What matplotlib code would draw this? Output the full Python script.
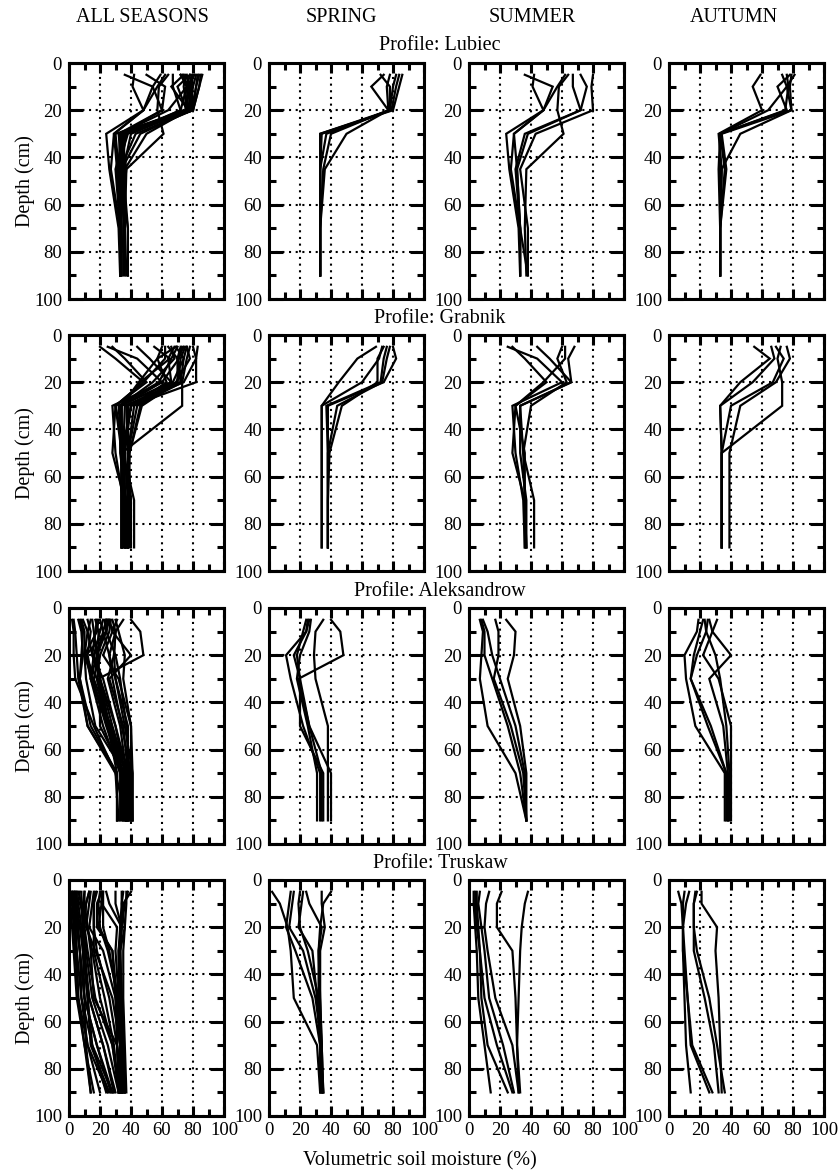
import matplotlib
matplotlib.use("Agg")
import matplotlib.pyplot as plt
from matplotlib.ticker import MultipleLocator, FixedLocator

plt.rcParams['font.family'] = ['Liberation Serif', 'DejaVu Serif']

SEASONS = ["ALL SEASONS", "SPRING", "SUMMER", "AUTUMN"]
PROFILES = ["Lubiec", "Grabnik", "Aleksandrow", "Truskaw"]
X_TICKS = [0, 20, 40, 60, 80, 100]
Y_TICKS = [0, 20, 40, 60, 80, 100]

# ---------------- Lubiec ----------------
LUBIEC_DEPTH = [5, 10, 20, 30, 45, 70, 90]
LUBIEC_SPRING = [
    [86, 84, 80, 33, 33, 33, 33],
    [84, 82, 79, 34, 33, 33, 33],
    [82, 80, 78, 37, 33, 33, 33],
    [78, 76, 77, 40, 35, 33, 33],
    [74, 66, 77, 50, 36, 33, 33],
    [72, 78, 78, 33, 33, 33, 33],
]
LUBIEC_SUMMER = [
    [36, 54, 48, 24, 26, 32, 33],
    [42, 41, 48, 29, 27, 33, 33],
    [62, 57, 48, 29, 31, 33, 33],
    [67, 67, 72, 36, 30, 33, 38],
    [80, 79, 80, 43, 33, 38, 38],
    [64, 58, 57, 61, 37, 36, 37],
    [72, 76, 72, 38, 31, 33, 33],
]
LUBIEC_AUTUMN = [
    [59, 54, 60, 32, 34, 33, 33],
    [73, 76, 64, 33, 36, 33, 33],
    [76, 77, 75, 33, 32, 33, 33],
    [79, 78, 79, 34, 37, 33, 33],
    [81, 76, 79, 46, 34, 33, 33],
    [78, 70, 76, 33, 33, 33, 33],
]
LUBIEC_WINTER = [
    [83, 82, 80, 35, 35, 35, 35],
    [85, 84, 80, 36, 35, 38, 38],
    [75, 74, 76, 30, 32, 34, 34],
    [50, 62, 60, 34, 36, 36, 36],
]

# ---------------- Grabnik ----------------
GRABNIK_DEPTH = [5, 10, 20, 30, 50, 70, 90]
GRABNIK_SPRING = [
    [69, 57, 45, 34, 34, 34, 34],
    [73, 71, 60, 34, 34, 34, 34],
    [76, 74, 72, 37, 38, 38, 38],
    [80, 82, 74, 38, 38, 38, 38],
    [74, 70, 70, 47, 39, 38, 38],
    [78, 76, 73, 44, 38, 38, 38],
]
GRABNIK_SUMMER = [
    [25, 44, 60, 28, 30, 35, 36],
    [28, 36, 50, 30, 28, 36, 37],
    [44, 52, 66, 33, 33, 37, 37],
    [60, 57, 63, 40, 35, 42, 42],
    [68, 64, 66, 33, 35, 36, 37],
    [62, 62, 48, 30, 36, 36, 36],
]
GRABNIK_AUTUMN = [
    [55, 65, 46, 33, 34, 34, 34],
    [66, 68, 54, 33, 34, 34, 34],
    [69, 74, 67, 40, 34, 34, 34],
    [76, 78, 69, 46, 39, 39, 39],
    [72, 70, 73, 73, 34, 34, 34],
]
GRABNIK_WINTER = [
    [20, 30, 48, 30, 34, 36, 36],
    [83, 82, 82, 40, 36, 38, 38],
    [75, 72, 70, 36, 35, 36, 36],
    [70, 66, 58, 32, 34, 35, 35],
    [64, 70, 72, 42, 38, 40, 40],
]

# ---------------- Aleksandrow ----------------
ALEKS_DEPTH = [5, 10, 20, 30, 50, 70, 90]
ALEKS_SPRING = [
    [40, 46, 48, 19, 26, 40, 40],
    [26, 24, 11, 14, 22, 33, 33],
    [24, 22, 18, 20, 20, 35, 35],
    [27, 26, 20, 18, 25, 31, 31],
    [35, 30, 29, 30, 38, 38, 38],
    [25, 24, 16, 20, 26, 34, 34],
]
ALEKS_SUMMER = [
    [7, 9, 8, 7, 12, 30, 37],
    [8, 10, 10, 15, 25, 33, 37],
    [17, 19, 19, 16, 27, 35, 37],
    [24, 30, 29, 25, 33, 37, 37],
    [9, 12, 15, 20, 30, 36, 37],
]
ALEKS_AUTUMN = [
    [19, 18, 10, 11, 17, 36, 36],
    [23, 24, 18, 14, 25, 37, 38],
    [26, 28, 40, 26, 35, 38, 38],
    [31, 28, 22, 32, 40, 40, 40],
    [22, 20, 16, 14, 27, 37, 37],
    [25, 24, 30, 33, 37, 39, 39],
]
ALEKS_WINTER = [
    [3, 4, 5, 6, 12, 31, 31],
    [2, 3, 3, 4, 16, 30, 32],
    [6, 8, 9, 7, 14, 31, 31],
    [12, 14, 12, 15, 24, 34, 36],
    [15, 16, 18, 20, 28, 37, 39],
    [18, 17, 15, 22, 30, 38, 40],
    [20, 22, 26, 28, 34, 40, 41],
    [28, 30, 26, 30, 36, 41, 41],
    [30, 32, 36, 35, 40, 41, 41],
    [14, 12, 10, 18, 26, 35, 35],
]

# ---------------- Truskaw ----------------
TRUSKAW_DEPTH = [5, 10, 20, 30, 50, 70, 90]
TRUSKAW_SPRING = [
    [2, 7, 12, 14, 16, 31, 33],
    [14, 13, 11, 17, 28, 33, 33],
    [16, 15, 13, 22, 30, 34, 34],
    [20, 19, 20, 25, 32, 34, 35],
    [22, 21, 19, 28, 31, 33, 34],
    [24, 26, 34, 32, 33, 34, 34],
    [34, 34, 36, 33, 33, 34, 35],
    [40, 35, 33, 32, 32, 33, 35],
]
TRUSKAW_SUMMER = [
    [3, 3, 4, 5, 6, 10, 14],
    [5, 5, 6, 7, 8, 12, 25],
    [7, 6, 8, 10, 13, 22, 29],
    [13, 11, 10, 12, 17, 28, 32],
    [21, 18, 18, 28, 30, 31, 33],
    [38, 36, 34, 33, 32, 31, 32],
    [4, 4, 5, 7, 10, 18, 28],
]
TRUSKAW_AUTUMN = [
    [6, 8, 9, 9, 10, 11, 14],
    [10, 9, 9, 9, 12, 15, 28],
    [13, 11, 9, 10, 12, 14, 26],
    [18, 16, 16, 16, 23, 29, 32],
    [21, 21, 31, 30, 32, 33, 34],
    [17, 16, 16, 18, 26, 31, 36],
]
TRUSKAW_WINTER = [
    [1, 1, 2, 3, 5, 10, 16],
    [2, 2, 3, 4, 6, 12, 20],
    [3, 3, 4, 5, 8, 15, 24],
    [4, 4, 5, 7, 10, 18, 27],
    [5, 5, 7, 9, 13, 22, 30],
    [8, 8, 9, 11, 15, 25, 32],
    [10, 10, 12, 15, 20, 28, 33],
    [22, 22, 22, 26, 31, 33, 34],
    [35, 34, 33, 33, 34, 35, 36],
    [37, 37, 36, 35, 35, 36, 37],
    [30, 30, 34, 33, 34, 35, 36],
]

DEPTHS = [LUBIEC_DEPTH, GRABNIK_DEPTH, ALEKS_DEPTH, TRUSKAW_DEPTH]
SPRING = [LUBIEC_SPRING, GRABNIK_SPRING, ALEKS_SPRING, TRUSKAW_SPRING]
SUMMER = [LUBIEC_SUMMER, GRABNIK_SUMMER, ALEKS_SUMMER, TRUSKAW_SUMMER]
AUTUMN = [LUBIEC_AUTUMN, GRABNIK_AUTUMN, ALEKS_AUTUMN, TRUSKAW_AUTUMN]
WINTER = [LUBIEC_WINTER, GRABNIK_WINTER, ALEKS_WINTER, TRUSKAW_WINTER]

# ---------------- layout ----------------
W, H = 840, 1175
fig = plt.figure(figsize=(W / 100, H / 100), dpi=100)
col_left = [69, 269, 469, 669]
ax_w = 155
row_top = [63, 335, 608, 880]
ax_h = 236
title_x = [142, 341, 532, 734]

for c, name in enumerate(SEASONS):
    fig.text(title_x[c] / W, 1 - 17 / H, name, ha='center', va='center', fontsize=14.5)

for r, prof in enumerate(PROFILES):
    fig.text(440 / W, 1 - (row_top[r] - 17) / H, "Profile: " + prof,
             ha='center', va='center', fontsize=14.5)
    depth = DEPTHS[r]
    season_lines = [SPRING[r] + SUMMER[r] + AUTUMN[r] + WINTER[r],
                    SPRING[r], SUMMER[r], AUTUMN[r]]
    for c in range(4):
        ax = fig.add_axes([col_left[c] / W, 1 - (row_top[r] + ax_h) / H, ax_w / W, ax_h / H])
        for vals in season_lines[c]:
            ax.plot(vals, depth, color='black', lw=1.6, solid_joinstyle='miter', zorder=3)
        ax.set_xlim(0, 100)
        ax.set_ylim(100, 0)
        ax.xaxis.set_major_locator(FixedLocator(X_TICKS))
        ax.yaxis.set_major_locator(FixedLocator(Y_TICKS))
        ax.xaxis.set_minor_locator(MultipleLocator(10))
        ax.yaxis.set_minor_locator(MultipleLocator(10))
        ax.grid(True, which='major', color='black', linestyle=(0, (1, 2.2)), lw=1.5, zorder=1)
        ax.tick_params(which='both', direction='in', top=True, right=True,
                       width=2.2, colors='black', labelsize=13.5)
        ax.tick_params(axis='y', which='major', length=10, pad=5)
        ax.tick_params(axis='x', which='major', length=7, pad=4)
        ax.tick_params(which='minor', length=5)
        ax.tick_params(axis='x', labelbottom=(r == 3))
        for sp in ax.spines.values():
            sp.set_linewidth(2.2)
            sp.set_zorder(4)
        if c == 0:
            fig.text(25 / W, 1 - (row_top[r] + ax_h / 2) / H, "Depth (cm)",
                     rotation=90, ha='center', va='center', fontsize=14.5)

fig.text(420 / W, 1 - 1161 / H, "Volumetric soil moisture (%)",
         ha='center', va='center', fontsize=14.5)

fig.savefig("out.png", dpi=100)
